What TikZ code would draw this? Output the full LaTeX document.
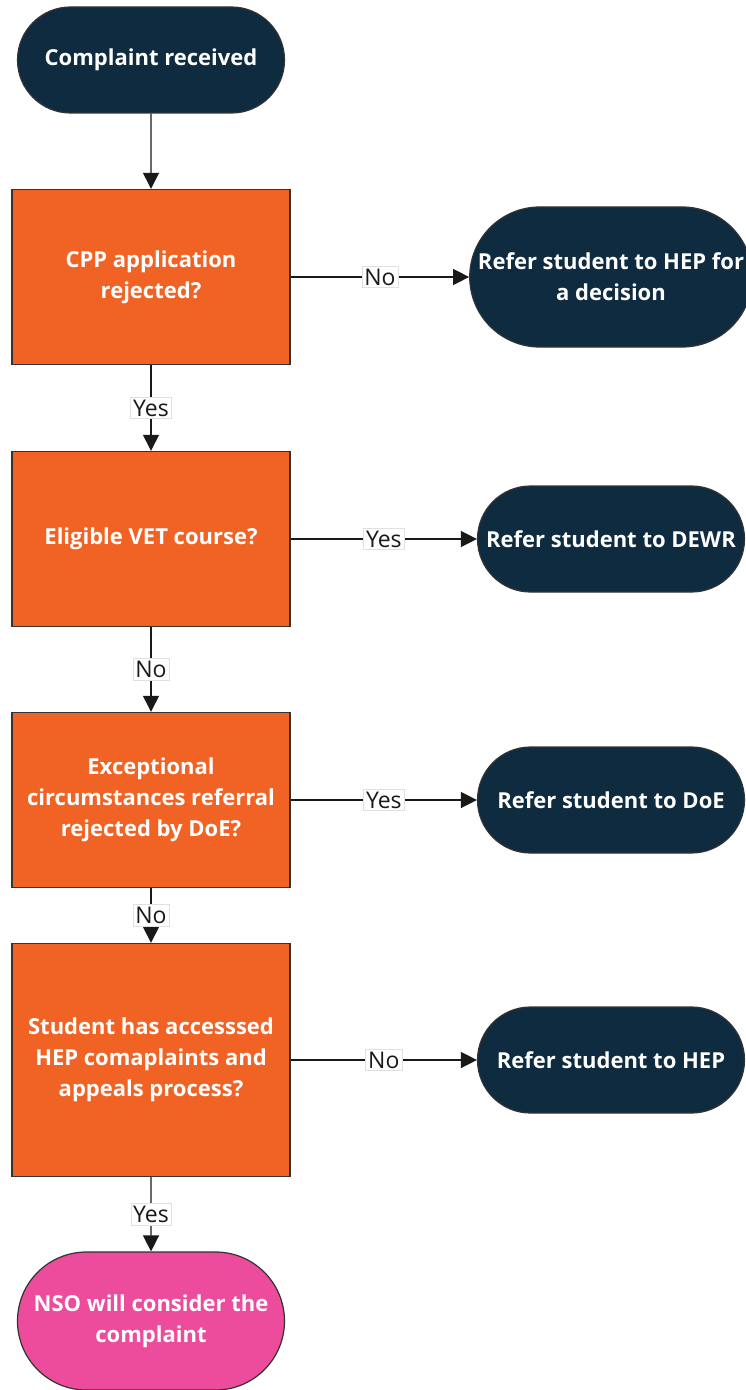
\documentclass[tikz,border=0pt]{standalone}
\usepackage{fontspec}
\setmainfont{Open Sans}
\usepackage{xcolor}
\usetikzlibrary{arrows.meta,shapes.misc}

\definecolor{navy}{HTML}{0F2B40}
\definecolor{tangerine}{HTML}{F16324}
\definecolor{magenta}{HTML}{EC4C9B}

\begin{document}
\begin{tikzpicture}[
    x=0.5pt, y=-0.5pt,
    font=\fontsize{11}{15}\selectfont,
    >={Triangle[length=8pt,width=8pt]},
    every node/.style={align=center},
    term/.style={rounded rectangle, draw=black!80, line width=0.6pt, fill=navy,
      text=white, font=\bfseries\fontsize{11}{15.5}\selectfont,
      minimum width=137.5pt, minimum height=53pt, inner sep=2pt},
    ask/.style={rectangle, draw=black!80, line width=0.7pt, fill=tangerine,
      text=white, font=\bfseries\fontsize{11}{15.5}\selectfont,
      minimum width=139pt, minimum height=87.5pt, inner sep=2pt},
    done/.style={term, fill=magenta},
    lbl/.style={fill=white, draw=black!12, line width=0.3pt, inner sep=1.2pt,
      text=black!90, font=\fontsize{11.5}{13}\selectfont},
    arr/.style={->, line width=0.7pt, draw=black!90},
  ]
    \useasboundingbox (0,0) rectangle (745,1390);

    % --- main column ---
    \node[term] (start) at (151,60) {Complaint received};
    \node[ask] (q1) at (151,277) {CPP application\\rejected?};
    \node[ask] (q2) at (151,539) {Eligible VET course?};
    \node[ask] (q3) at (151,800) {Exceptional\\circumstances referral\\rejected by DoE?};
    \node[ask, minimum height=116.5pt] (q4) at (151,1060) {Student has accesssed\\HEP comaplaints and\\appeals process?};
    \node[done, minimum height=69pt] (nso) at (151,1321) {NSO will consider the\\complaint};

    % --- referrals ---
    \node[term, minimum height=70pt] (hep1) at (611,277) {Refer student to HEP for\\a decision};
    \node[term] (dewr) at (611,539) {Refer student to DEWR};
    \node[term] (doe)  at (611,800) {Refer student to DoE};
    \node[term] (hep2) at (611,1060) {Refer student to HEP};

    % --- arrows down ---
    \draw[arr] (start) -- (q1);
    \draw[arr] (q1) -- node[lbl] {Yes} (q2);
    \draw[arr] (q2) -- node[lbl] {No} (q3);
    \draw[arr] (q3) -- node[lbl] {No} (q4);
    \draw[arr] (q4) -- node[lbl] {Yes} (nso);

    % --- arrows across ---
    \draw[arr] (q1) -- node[lbl] {No} (hep1);
    \draw[arr] (q2) -- node[lbl] {Yes} (dewr);
    \draw[arr] (q3) -- node[lbl] {Yes} (doe);
    \draw[arr] (q4) -- node[lbl] {No} (hep2);
  \end{tikzpicture}
\end{document}
